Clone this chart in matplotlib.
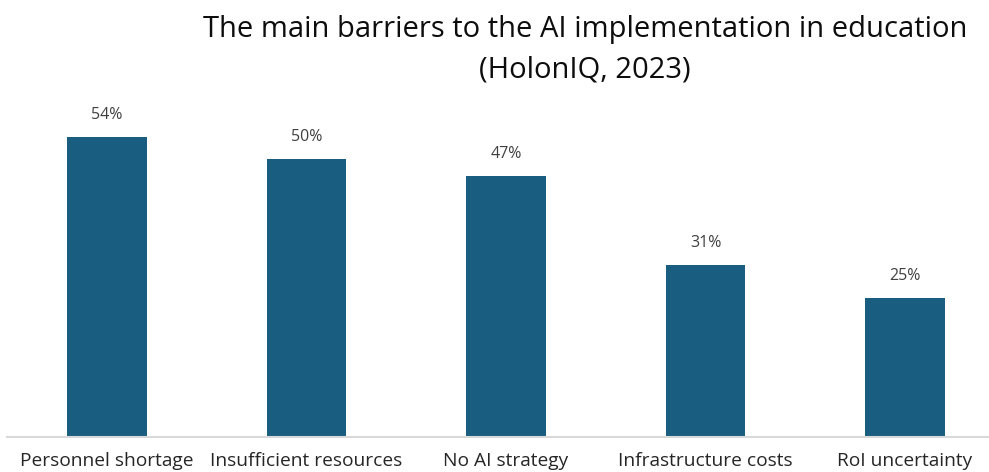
import matplotlib
matplotlib.use("Agg")
import matplotlib.pyplot as plt

categories = ["Personnel shortage", "Insufficient resources", "No AI strategy",
              "Infrastructure costs", "RoI uncertainty"]
values = [54, 50, 47, 31, 25]
value_labels = ["54%", "50%", "47%", "31%", "25%"]

plt.rcParams['font.family'] = ['Open Sans', 'DejaVu Sans']

W, H = 989, 472
fig = plt.figure(figsize=(W / 100, H / 100), dpi=100)
left_px, width_px = 7.3, 997.5
bottom_px, height_px = 35, 333.3
ax = fig.add_axes([left_px / W, bottom_px / H, width_px / W, height_px / H])

x = list(range(len(categories)))
ax.bar(x, values, width=0.4, color="#195E80", zorder=2)
ax.set_xlim(-0.5, 4.5)
ax.set_ylim(0, 60)

for xi, v, lab in zip(x, values, value_labels):
    ax.annotate(lab, (xi, v), xytext=(0, 10), textcoords="offset points",
                ha="center", va="bottom", fontsize=11.5, color="#404040")

ax.set_xticks(x)
ax.set_xticklabels(categories, fontsize=13.8, color="#262626")
ax.tick_params(axis="x", length=0, pad=11)
ax.set_yticks([])
for s in ["top", "right", "left"]:
    ax.spines[s].set_visible(False)
ax.spines["bottom"].set_color("#D9D9D9")
ax.spines["bottom"].set_linewidth(1.5)

fig.text(585 / W, 1 - 15 / H, "The main barriers to the AI implementation in education\n(HolonIQ, 2023)",
         ha="center", va="top", fontsize=21, color="#0D0D0D", linespacing=1.5)

fig.savefig("out.png", dpi=100)
